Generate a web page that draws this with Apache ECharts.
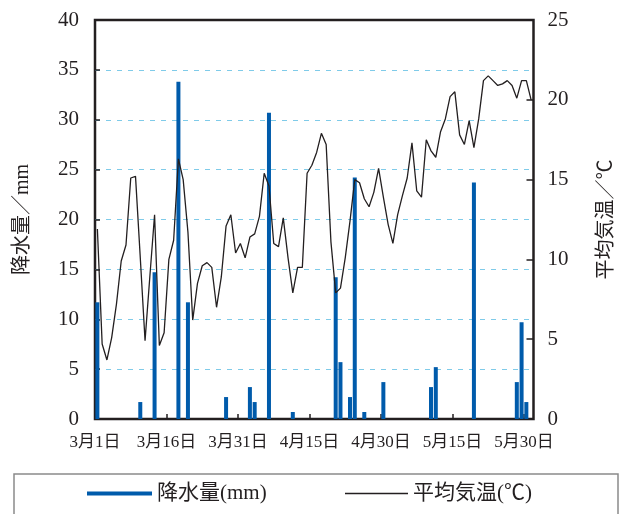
<!DOCTYPE html>
<html>
<head>
<meta charset="utf-8">
<script src="https://cdn.jsdelivr.net/npm/echarts@6/dist/echarts.min.js"></script>
<style>
  html, body { margin: 0; padding: 0; background: #fff; }
  #chart { width: 626px; height: 514px; }
</style>
</head>
<body>
<div id="chart"></div>
<script>
// Day-of-season tick labels (every 15 days from March 1)
const dayLabels = ['3月1日', '3月16日', '3月31日', '4月15日', '4月30日', '5月15日', '5月30日'];

// Daily mean air temperature (°C), March 1 – May 31
const meanTemp = [
  11.9, 4.7, 3.7, 5.1, 7.2, 9.9, 10.9, 15.1, 15.2, 10.1,
  4.9, 8.9, 12.8, 4.6, 5.4, 10.0, 11.2, 16.3, 15.0, 11.7,
  6.2, 8.5, 9.6, 9.8, 9.5, 7.0, 8.9, 12.1, 12.8, 10.4,
  11.0, 10.1, 11.4, 11.6, 12.7, 15.4, 14.6, 11.0, 10.8, 12.6,
  10.1, 7.9, 9.5, 9.5, 15.4, 15.9, 16.7, 17.9, 17.2, 11.1,
  7.9, 8.2, 10.1, 12.4, 15.0, 14.8, 13.8, 13.3, 14.2, 15.7,
  13.9, 12.2, 11.0, 12.8, 14.0, 15.1, 17.3, 14.3, 13.9, 17.5,
  16.8, 16.4, 18.0, 18.8, 20.2, 20.5, 17.8, 17.2, 18.7, 17.0,
  18.8, 21.2, 21.5, 21.2, 20.9, 21.0, 21.2, 20.9, 20.1, 21.2,
  21.2, 20.0
];

// Days with precipitation (index from March 1) and amounts (mm)
const rainDay = [0, 9, 12, 17, 19, 27, 32, 33, 36, 41, 50, 51, 53, 54, 56, 60, 70, 71, 79, 88, 89, 90];
const rainMm  = [11.7, 1.7, 14.7, 33.8, 11.7, 2.2, 3.2, 1.7, 30.7, 0.7, 14.2, 5.7, 2.2, 24.2, 0.7, 3.7, 3.2, 5.2, 23.7, 3.7, 9.7, 1.7];

const NUM_DAYS = meanTemp.length;
const INK = '#231f20';
const BLUE = '#005bab';
const SERIF = "'Liberation Serif', 'Noto Sans CJK JP', serif";

// Each day occupies one unit on the x scale; marks sit at the middle of their day
const tempData = meanTemp.map((t, i) => [i + 0.5, t]);
const rainData = rainDay.map((d, k) => [d + 0.5, rainMm[k]]);

const chart = echarts.init(document.getElementById('chart'), null, { renderer: 'canvas' });

chart.setOption({
  animation: false,
  backgroundColor: '#fff',
  grid: {
    left: 95, right: 92.5, top: 20, bottom: 95,
    show: true, borderColor: INK, borderWidth: 2.5, backgroundColor: 'transparent'
  },
  xAxis: {
    type: 'value',
    min: 0, max: NUM_DAYS, interval: 15,
    axisLine: { show: false },
    axisTick: { show: true, inside: true, length: 5, lineStyle: { color: INK, width: 1.5 } },
    splitLine: { show: false },
    axisLabel: {
      margin: 15, fontSize: 17, color: INK, fontFamily: SERIF,
      showMaxLabel: false,
      formatter: v => (v % 15 === 0 && v / 15 < dayLabels.length) ? dayLabels[v / 15] : ''
    }
  },
  yAxis: [
    {
      type: 'value', min: 0, max: 40, interval: 5,
      name: '降水量／mm', nameLocation: 'middle', nameGap: 62, nameRotate: 90,
      nameTextStyle: { fontSize: 20, color: INK, fontFamily: SERIF },
      axisLine: { show: false },
      axisTick: { show: true, inside: true, length: 5, lineStyle: { color: INK, width: 1.5 } },
      axisLabel: { margin: 16, fontSize: 21, color: INK, fontFamily: SERIF },
      splitLine: {
        show: true, showMinLine: false, showMaxLine: false,
        lineStyle: { color: '#7fcbe9', width: 1, type: [5, 6] }
      }
    },
    {
      type: 'value', min: 0, max: 25, interval: 5, position: 'right',
      name: '平均気温／℃', nameLocation: 'middle', nameGap: 63, nameRotate: 90,
      nameTextStyle: { fontSize: 20, color: INK, fontFamily: SERIF },
      axisLine: { show: false },
      axisTick: { show: true, inside: true, length: 7, lineStyle: { color: INK, width: 1.5 } },
      axisLabel: { margin: 14, fontSize: 21, color: INK, fontFamily: SERIF },
      splitLine: { show: false }
    }
  ],
  legend: [
    {
      data: ['降水量(mm)'], left: 87, top: 483, padding: 0,
      icon: 'rect', itemWidth: 65, itemHeight: 4,
      textStyle: { fontSize: 21, color: INK, fontFamily: SERIF }
    },
    {
      data: ['平均気温(℃)'], left: 345, top: 483, padding: 0,
      icon: 'rect', itemWidth: 63, itemHeight: 1.5,
      textStyle: { fontSize: 21, color: INK, fontFamily: SERIF }
    }
  ],
  graphic: [
    {
      type: 'rect', left: 11.5, top: 471.5, z: -1,
      shape: { width: 604, height: 60 },
      style: { fill: 'none', stroke: '#8a8a8a', lineWidth: 1.5 }
    }
  ],
  series: [
    {
      name: '降水量(mm)', type: 'bar', yAxisIndex: 0,
      data: rainData, barWidth: 4,
      itemStyle: { color: BLUE },
      z: 2
    },
    {
      name: '平均気温(℃)', type: 'line', yAxisIndex: 1,
      data: tempData, symbol: 'none', smooth: false,
      lineStyle: { color: INK, width: 1.3 },
      itemStyle: { color: INK },
      z: 3
    }
  ]
});
</script>
</body>
</html>
